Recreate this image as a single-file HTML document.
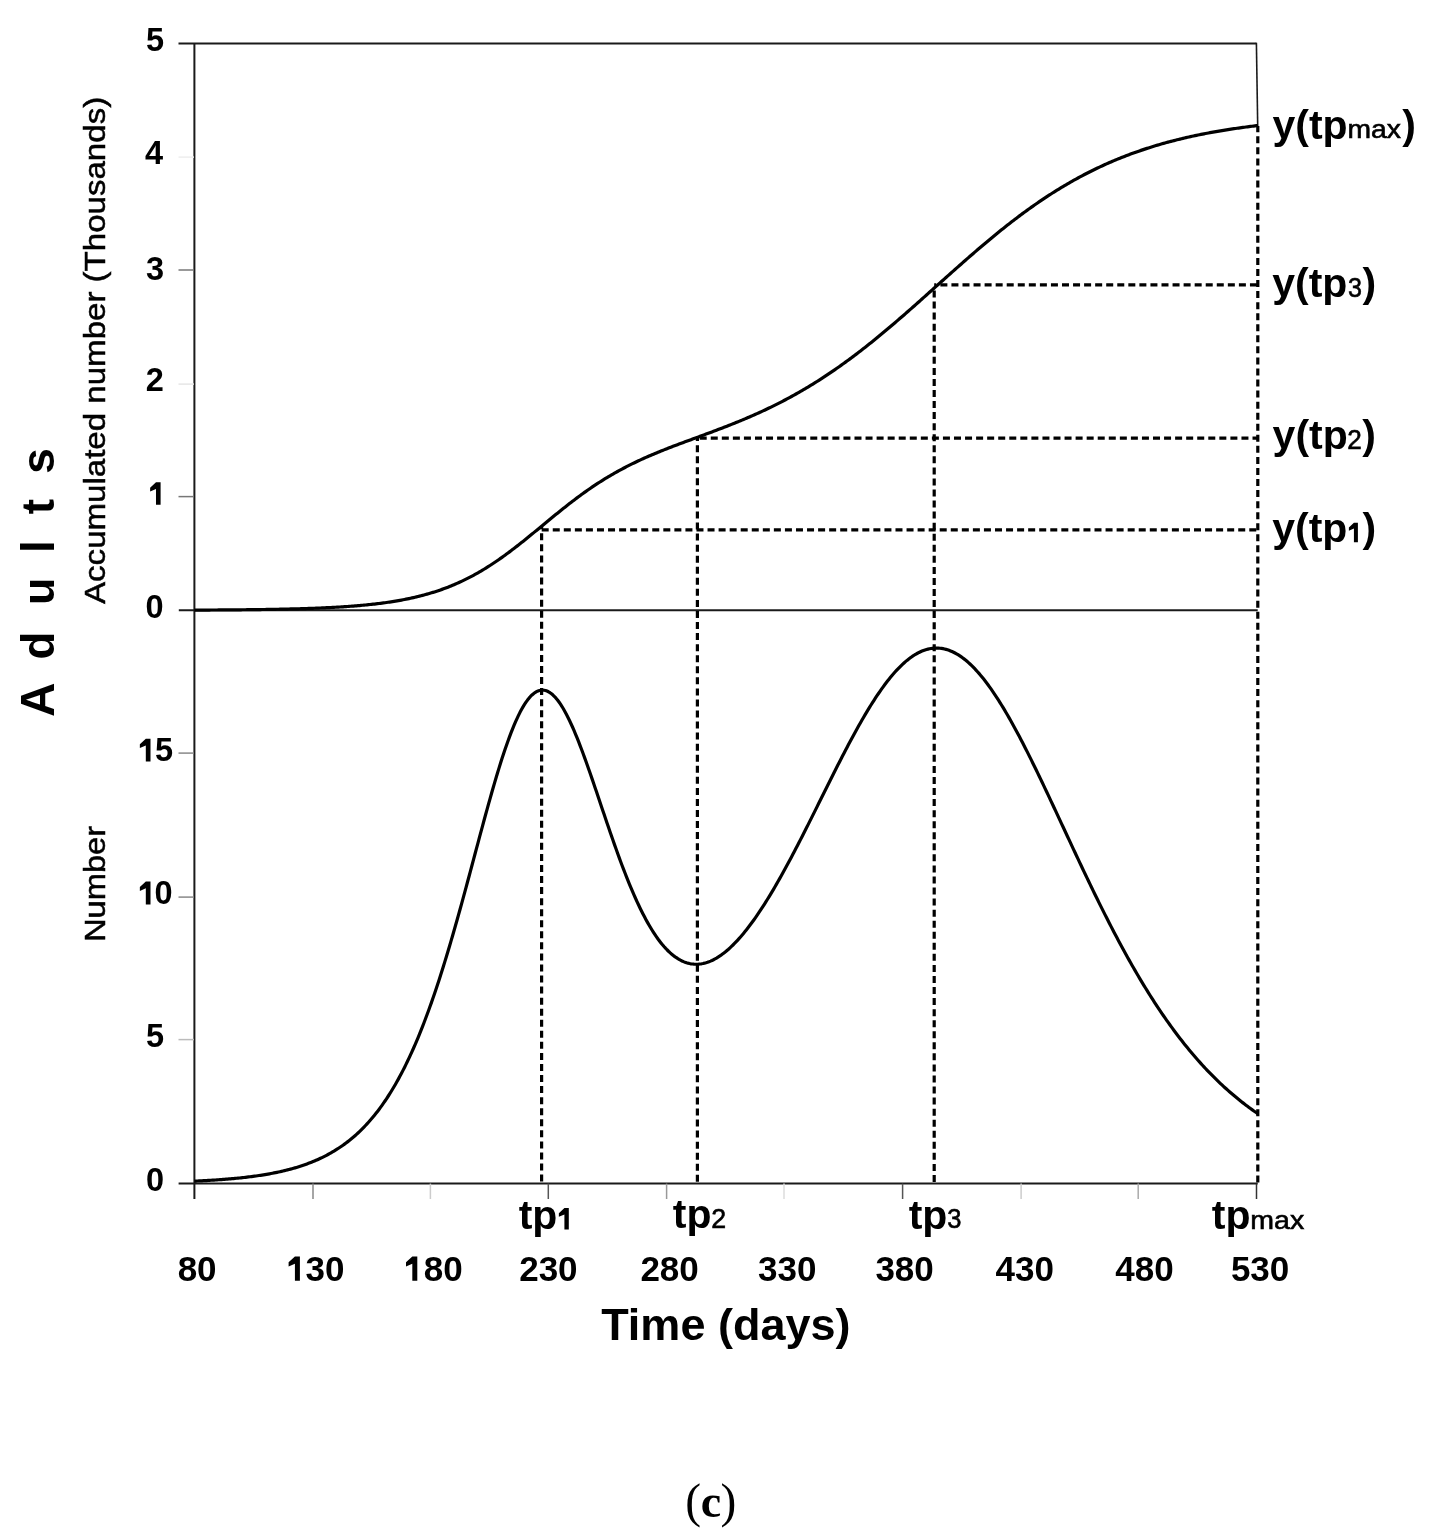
<!DOCTYPE html><html><head><meta charset="utf-8"><style>html,body{margin:0;padding:0;background:#fff}svg{display:block;filter:blur(0.35px)}text{font-family:"Liberation Sans",sans-serif}.sf{font-family:"Liberation Serif",serif}</style></head><body>
<svg width="1441" height="1536" viewBox="0 0 1441 1536">
<rect width="1441" height="1536" fill="#fff"/>
<path d="M194.4 43.6 V1199" stroke="#1a1a1a" stroke-width="2" fill="none"/>
<path d="M178.5 43.6 H1256.4" stroke="#1a1a1a" stroke-width="2" fill="none"/>
<path d="M1256.4 42.8 L1257.7 126" stroke="#1a1a1a" stroke-width="1.6" fill="none"/>
<path d="M178.8 610.3 H1257.7" stroke="#1a1a1a" stroke-width="2" fill="none"/>
<path d="M178.6 1183.6 H1257.7" stroke="#1a1a1a" stroke-width="2" fill="none"/>
<path d="M178.5 157.1 H194" stroke="#eee" stroke-width="1.5" fill="none"/>
<path d="M178.5 270 H194" stroke="#777" stroke-width="1.5" fill="none"/>
<path d="M178.5 384.1 H194" stroke="#e6e6e6" stroke-width="1.5" fill="none"/>
<path d="M178.5 496.6 H194" stroke="#777" stroke-width="1.5" fill="none"/>
<path d="M178.5 753.1 H194" stroke="#888" stroke-width="1.5" fill="none"/>
<path d="M178.5 897.1 H194" stroke="#888" stroke-width="1.5" fill="none"/>
<path d="M178.5 1039.6 H194" stroke="#bbb" stroke-width="1.5" fill="none"/>
<path d="M313 1183.6 V1199" stroke="#888" stroke-width="1.5" fill="none"/>
<path d="M430.4 1183.6 V1199" stroke="#ccc" stroke-width="1.5" fill="none"/>
<path d="M548.3 1183.6 V1199" stroke="#555" stroke-width="1.5" fill="none"/>
<path d="M666.6 1183.6 V1199" stroke="#999" stroke-width="1.5" fill="none"/>
<path d="M784 1183.6 V1199" stroke="#ddd" stroke-width="1.5" fill="none"/>
<path d="M902.6 1183.6 V1199" stroke="#555" stroke-width="1.5" fill="none"/>
<path d="M1021.1 1183.6 V1199" stroke="#ccc" stroke-width="1.5" fill="none"/>
<path d="M1138.2 1183.6 V1199" stroke="#aaa" stroke-width="1.5" fill="none"/>
<path d="M1256.5 1183.6 V1199" stroke="#333" stroke-width="1.5" fill="none"/>
<path d="M541.6 526.2 L541.6 1183.6" stroke="#000" stroke-width="3.2" fill="none" stroke-dasharray="7.0 4.056" stroke-dashoffset="3.96"/>
<path d="M697.4 437.3 L697.4 1183.6" stroke="#000" stroke-width="3.2" fill="none" stroke-dasharray="7.0 4.056" stroke-dashoffset="3.21"/>
<path d="M934.2 288.1 L934.2 1183.6" stroke="#000" stroke-width="3.2" fill="none" stroke-dasharray="7.0 4.056" stroke-dashoffset="8.66"/>
<path d="M1257.8 126 L1257.8 1183.6" stroke="#000" stroke-width="3.2" fill="none" stroke-dasharray="7.0 4.056" stroke-dashoffset="0.76"/>
<path d="M541.6 529.8 L1257.8 529.8" stroke="#000" stroke-width="3.2" fill="none" stroke-dasharray="7.0 4.056" stroke-dashoffset="10.96"/>
<path d="M697.4 438.1 L1257.8 438.1" stroke="#000" stroke-width="3.2" fill="none" stroke-dasharray="7.0 4.056" stroke-dashoffset="8.75"/>
<path d="M934.2 284.8 L1257.8 284.8" stroke="#000" stroke-width="3.2" fill="none" stroke-dasharray="7.0 4.056" stroke-dashoffset="4.88"/>
<path d="M194.50 610.10 L196.00 610.10 L197.50 610.09 L199.00 610.08 L200.50 610.07 L202.00 610.07 L203.50 610.06 L205.00 610.05 L206.50 610.04 L208.00 610.03 L209.50 610.03 L211.00 610.02 L212.50 610.01 L214.00 610.00 L215.50 609.99 L217.00 609.98 L218.50 609.97 L220.00 609.96 L221.50 609.95 L223.00 609.94 L224.50 609.92 L226.00 609.91 L227.50 609.90 L229.00 609.89 L230.50 609.88 L232.00 609.86 L233.50 609.85 L235.00 609.84 L236.50 609.82 L238.00 609.81 L239.50 609.80 L241.00 609.78 L242.50 609.76 L244.00 609.75 L245.50 609.73 L247.00 609.72 L248.50 609.70 L250.00 609.68 L251.50 609.66 L253.00 609.64 L254.50 609.63 L256.00 609.61 L257.50 609.59 L259.00 609.57 L260.50 609.54 L262.00 609.52 L263.50 609.50 L265.00 609.48 L266.50 609.45 L268.00 609.43 L269.50 609.40 L271.00 609.38 L272.50 609.35 L274.00 609.33 L275.50 609.30 L277.00 609.27 L278.50 609.24 L280.00 609.21 L281.50 609.18 L283.00 609.15 L284.50 609.11 L286.00 609.08 L287.50 609.05 L289.00 609.01 L290.50 608.97 L292.00 608.94 L293.50 608.90 L295.00 608.86 L296.50 608.82 L298.00 608.78 L299.50 608.73 L301.00 608.69 L302.50 608.64 L304.00 608.60 L305.50 608.55 L307.00 608.50 L308.50 608.45 L310.00 608.40 L311.50 608.34 L313.00 608.29 L314.50 608.23 L316.00 608.17 L317.50 608.11 L319.00 608.05 L320.50 607.99 L322.00 607.92 L323.50 607.86 L325.00 607.79 L326.50 607.72 L328.00 607.64 L329.50 607.57 L331.00 607.49 L332.50 607.41 L334.00 607.33 L335.50 607.25 L337.00 607.16 L338.50 607.07 L340.00 606.98 L341.50 606.89 L343.00 606.80 L344.50 606.70 L346.00 606.60 L347.50 606.49 L349.00 606.38 L350.50 606.27 L352.00 606.16 L353.50 606.05 L355.00 605.93 L356.50 605.80 L358.00 605.68 L359.50 605.55 L361.00 605.41 L362.50 605.28 L364.00 605.14 L365.50 604.99 L367.00 604.84 L368.50 604.69 L370.00 604.53 L371.50 604.37 L373.00 604.21 L374.50 604.04 L376.00 603.86 L377.50 603.68 L379.00 603.50 L380.50 603.31 L382.00 603.12 L383.50 602.92 L385.00 602.71 L386.50 602.50 L388.00 602.28 L389.50 602.06 L391.00 601.83 L392.50 601.60 L394.00 601.36 L395.50 601.11 L397.00 600.86 L398.50 600.60 L400.00 600.33 L401.50 600.06 L403.00 599.77 L404.50 599.49 L406.00 599.19 L407.50 598.89 L409.00 598.57 L410.50 598.25 L412.00 597.93 L413.50 597.59 L415.00 597.24 L416.50 596.89 L418.00 596.53 L419.50 596.16 L421.00 595.78 L422.50 595.39 L424.00 594.99 L425.50 594.58 L427.00 594.16 L428.50 593.73 L430.00 593.29 L431.50 592.84 L433.00 592.38 L434.50 591.90 L436.00 591.42 L437.50 590.93 L439.00 590.42 L440.50 589.90 L442.00 589.37 L443.50 588.83 L445.00 588.28 L446.50 587.71 L448.00 587.14 L449.50 586.55 L451.00 585.94 L452.50 585.33 L454.00 584.70 L455.50 584.06 L457.00 583.40 L458.50 582.73 L460.00 582.05 L461.50 581.35 L463.00 580.65 L464.50 579.92 L466.00 579.18 L467.50 578.43 L469.00 577.67 L470.50 576.89 L472.00 576.10 L473.50 575.29 L475.00 574.47 L476.50 573.63 L478.00 572.78 L479.50 571.92 L481.00 571.04 L482.50 570.15 L484.00 569.25 L485.50 568.33 L487.00 567.39 L488.50 566.45 L490.00 565.49 L491.50 564.51 L493.00 563.53 L494.50 562.53 L496.00 561.51 L497.50 560.49 L499.00 559.45 L500.50 558.40 L502.00 557.34 L503.50 556.26 L505.00 555.18 L506.50 554.08 L508.00 552.98 L509.50 551.86 L511.00 550.73 L512.50 549.59 L514.00 548.45 L515.50 547.29 L517.00 546.13 L518.50 544.95 L520.00 543.77 L521.50 542.59 L523.00 541.39 L524.50 540.19 L526.00 538.98 L527.50 537.77 L529.00 536.55 L530.50 535.33 L532.00 534.11 L533.50 532.88 L535.00 531.64 L536.50 530.41 L538.00 529.17 L539.50 527.93 L541.00 526.69 L542.50 525.45 L544.00 524.21 L545.50 522.97 L547.00 521.74 L548.50 520.50 L550.00 519.27 L551.50 518.03 L553.00 516.80 L554.50 515.58 L556.00 514.36 L557.50 513.14 L559.00 511.93 L560.50 510.72 L562.00 509.52 L563.50 508.32 L565.00 507.13 L566.50 505.95 L568.00 504.78 L569.50 503.61 L571.00 502.45 L572.50 501.30 L574.00 500.15 L575.50 499.02 L577.00 497.89 L578.50 496.78 L580.00 495.67 L581.50 494.58 L583.00 493.49 L584.50 492.41 L586.00 491.35 L587.50 490.29 L589.00 489.25 L590.50 488.21 L592.00 487.19 L593.50 486.18 L595.00 485.18 L596.50 484.19 L598.00 483.21 L599.50 482.24 L601.00 481.28 L602.50 480.34 L604.00 479.40 L605.50 478.48 L607.00 477.57 L608.50 476.67 L610.00 475.78 L611.50 474.90 L613.00 474.03 L614.50 473.17 L616.00 472.33 L617.50 471.49 L619.00 470.67 L620.50 469.85 L622.00 469.05 L623.50 468.25 L625.00 467.46 L626.50 466.69 L628.00 465.92 L629.50 465.17 L631.00 464.42 L632.50 463.68 L634.00 462.95 L635.50 462.23 L637.00 461.51 L638.50 460.81 L640.00 460.11 L641.50 459.42 L643.00 458.74 L644.50 458.07 L646.00 457.40 L647.50 456.74 L649.00 456.09 L650.50 455.44 L652.00 454.80 L653.50 454.17 L655.00 453.54 L656.50 452.91 L658.00 452.30 L659.50 451.68 L661.00 451.08 L662.50 450.47 L664.00 449.88 L665.50 449.28 L667.00 448.69 L668.50 448.11 L670.00 447.52 L671.50 446.94 L673.00 446.37 L674.50 445.80 L676.00 445.23 L677.50 444.66 L679.00 444.09 L680.50 443.53 L682.00 442.97 L683.50 442.41 L685.00 441.85 L686.50 441.30 L688.00 440.74 L689.50 440.19 L691.00 439.64 L692.50 439.08 L694.00 438.53 L695.50 437.98 L697.00 437.43 L698.50 436.88 L700.00 436.33 L701.50 435.77 L703.00 435.22 L704.50 434.67 L706.00 434.11 L707.50 433.56 L709.00 433.00 L710.50 432.44 L712.00 431.88 L713.50 431.32 L715.00 430.76 L716.50 430.19 L718.00 429.62 L719.50 429.05 L721.00 428.48 L722.50 427.90 L724.00 427.32 L725.50 426.74 L727.00 426.16 L728.50 425.57 L730.00 424.98 L731.50 424.38 L733.00 423.79 L734.50 423.18 L736.00 422.58 L737.50 421.97 L739.00 421.36 L740.50 420.74 L742.00 420.12 L743.50 419.49 L745.00 418.86 L746.50 418.22 L748.00 417.58 L749.50 416.94 L751.00 416.29 L752.50 415.63 L754.00 414.97 L755.50 414.30 L757.00 413.63 L758.50 412.95 L760.00 412.27 L761.50 411.58 L763.00 410.89 L764.50 410.19 L766.00 409.48 L767.50 408.77 L769.00 408.05 L770.50 407.33 L772.00 406.60 L773.50 405.86 L775.00 405.12 L776.50 404.37 L778.00 403.62 L779.50 402.85 L781.00 402.08 L782.50 401.31 L784.00 400.53 L785.50 399.74 L787.00 398.94 L788.50 398.14 L790.00 397.33 L791.50 396.51 L793.00 395.68 L794.50 394.85 L796.00 394.01 L797.50 393.17 L799.00 392.31 L800.50 391.45 L802.00 390.59 L803.50 389.71 L805.00 388.83 L806.50 387.94 L808.00 387.04 L809.50 386.13 L811.00 385.22 L812.50 384.30 L814.00 383.37 L815.50 382.44 L817.00 381.49 L818.50 380.54 L820.00 379.58 L821.50 378.62 L823.00 377.65 L824.50 376.66 L826.00 375.68 L827.50 374.68 L829.00 373.68 L830.50 372.67 L832.00 371.65 L833.50 370.62 L835.00 369.59 L836.50 368.55 L838.00 367.50 L839.50 366.44 L841.00 365.38 L842.50 364.31 L844.00 363.23 L845.50 362.14 L847.00 361.05 L848.50 359.95 L850.00 358.85 L851.50 357.73 L853.00 356.61 L854.50 355.48 L856.00 354.35 L857.50 353.21 L859.00 352.06 L860.50 350.90 L862.00 349.74 L863.50 348.57 L865.00 347.40 L866.50 346.22 L868.00 345.03 L869.50 343.84 L871.00 342.64 L872.50 341.43 L874.00 340.22 L875.50 339.01 L877.00 337.78 L878.50 336.55 L880.00 335.32 L881.50 334.08 L883.00 332.83 L884.50 331.58 L886.00 330.33 L887.50 329.07 L889.00 327.80 L890.50 326.53 L892.00 325.26 L893.50 323.98 L895.00 322.70 L896.50 321.41 L898.00 320.12 L899.50 318.82 L901.00 317.52 L902.50 316.22 L904.00 314.92 L905.50 313.61 L907.00 312.29 L908.50 310.98 L910.00 309.66 L911.50 308.34 L913.00 307.01 L914.50 305.68 L916.00 304.35 L917.50 303.02 L919.00 301.69 L920.50 300.35 L922.00 299.02 L923.50 297.68 L925.00 296.34 L926.50 295.00 L928.00 293.65 L929.50 292.31 L931.00 290.97 L932.50 289.62 L934.00 288.28 L935.50 286.93 L937.00 285.59 L938.50 284.24 L940.00 282.90 L941.50 281.55 L943.00 280.21 L944.50 278.86 L946.00 277.52 L947.50 276.18 L949.00 274.84 L950.50 273.50 L952.00 272.16 L953.50 270.83 L955.00 269.49 L956.50 268.16 L958.00 266.83 L959.50 265.50 L961.00 264.18 L962.50 262.85 L964.00 261.53 L965.50 260.22 L967.00 258.90 L968.50 257.59 L970.00 256.28 L971.50 254.98 L973.00 253.68 L974.50 252.38 L976.00 251.09 L977.50 249.80 L979.00 248.52 L980.50 247.24 L982.00 245.97 L983.50 244.69 L985.00 243.43 L986.50 242.17 L988.00 240.91 L989.50 239.66 L991.00 238.42 L992.50 237.18 L994.00 235.94 L995.50 234.71 L997.00 233.49 L998.50 232.27 L1000.00 231.06 L1001.50 229.85 L1003.00 228.65 L1004.50 227.46 L1006.00 226.27 L1007.50 225.09 L1009.00 223.92 L1010.50 222.75 L1012.00 221.59 L1013.50 220.44 L1015.00 219.29 L1016.50 218.15 L1018.00 217.02 L1019.50 215.89 L1021.00 214.77 L1022.50 213.66 L1024.00 212.55 L1025.50 211.46 L1027.00 210.37 L1028.50 209.29 L1030.00 208.21 L1031.50 207.14 L1033.00 206.08 L1034.50 205.03 L1036.00 203.99 L1037.50 202.95 L1039.00 201.92 L1040.50 200.90 L1042.00 199.89 L1043.50 198.88 L1045.00 197.89 L1046.50 196.90 L1048.00 195.91 L1049.50 194.94 L1051.00 193.98 L1052.50 193.02 L1054.00 192.07 L1055.50 191.13 L1057.00 190.19 L1058.50 189.27 L1060.00 188.35 L1061.50 187.44 L1063.00 186.54 L1064.50 185.65 L1066.00 184.77 L1067.50 183.89 L1069.00 183.02 L1070.50 182.16 L1072.00 181.31 L1073.50 180.46 L1075.00 179.63 L1076.50 178.80 L1078.00 177.98 L1079.50 177.17 L1081.00 176.36 L1082.50 175.57 L1084.00 174.78 L1085.50 174.00 L1087.00 173.23 L1088.50 172.46 L1090.00 171.71 L1091.50 170.96 L1093.00 170.22 L1094.50 169.48 L1096.00 168.76 L1097.50 168.04 L1099.00 167.33 L1100.50 166.63 L1102.00 165.93 L1103.50 165.25 L1105.00 164.57 L1106.50 163.89 L1108.00 163.23 L1109.50 162.57 L1111.00 161.92 L1112.50 161.28 L1114.00 160.64 L1115.50 160.01 L1117.00 159.39 L1118.50 158.78 L1120.00 158.17 L1121.50 157.57 L1123.00 156.98 L1124.50 156.39 L1126.00 155.81 L1127.50 155.24 L1129.00 154.67 L1130.50 154.11 L1132.00 153.56 L1133.50 153.02 L1135.00 152.48 L1136.50 151.94 L1138.00 151.42 L1139.50 150.90 L1141.00 150.38 L1142.50 149.88 L1144.00 149.38 L1145.50 148.88 L1147.00 148.39 L1148.50 147.91 L1150.00 147.43 L1151.50 146.96 L1153.00 146.50 L1154.50 146.04 L1156.00 145.58 L1157.50 145.14 L1159.00 144.70 L1160.50 144.26 L1162.00 143.83 L1163.50 143.40 L1165.00 142.98 L1166.50 142.57 L1168.00 142.16 L1169.50 141.76 L1171.00 141.36 L1172.50 140.97 L1174.00 140.58 L1175.50 140.20 L1177.00 139.82 L1178.50 139.45 L1180.00 139.08 L1181.50 138.72 L1183.00 138.36 L1184.50 138.01 L1186.00 137.66 L1187.50 137.31 L1189.00 136.97 L1190.50 136.64 L1192.00 136.31 L1193.50 135.98 L1195.00 135.66 L1196.50 135.35 L1198.00 135.03 L1199.50 134.72 L1201.00 134.42 L1202.50 134.12 L1204.00 133.82 L1205.50 133.53 L1207.00 133.24 L1208.50 132.96 L1210.00 132.68 L1211.50 132.40 L1213.00 132.13 L1214.50 131.86 L1216.00 131.60 L1217.50 131.34 L1219.00 131.08 L1220.50 130.83 L1222.00 130.58 L1223.50 130.33 L1225.00 130.09 L1226.50 129.85 L1228.00 129.61 L1229.50 129.38 L1231.00 129.15 L1232.50 128.92 L1234.00 128.70 L1235.50 128.48 L1237.00 128.26 L1238.50 128.05 L1240.00 127.84 L1241.50 127.63 L1243.00 127.42 L1244.50 127.22 L1246.00 127.02 L1247.50 126.83 L1249.00 126.63 L1250.50 126.44 L1252.00 126.26 L1253.50 126.07 L1255.00 125.89 L1256.50 125.71 L1257.70 125.57" stroke="#000" stroke-width="3.2" fill="none" stroke-linejoin="round"/>
<path d="M194.50 1181.14 L196.00 1181.07 L197.50 1181.00 L199.00 1180.93 L200.50 1180.85 L202.00 1180.78 L203.50 1180.70 L205.00 1180.62 L206.50 1180.53 L208.00 1180.45 L209.50 1180.36 L211.00 1180.27 L212.50 1180.17 L214.00 1180.08 L215.50 1179.98 L217.00 1179.88 L218.50 1179.77 L220.00 1179.67 L221.50 1179.56 L223.00 1179.44 L224.50 1179.33 L226.00 1179.21 L227.50 1179.08 L229.00 1178.96 L230.50 1178.83 L232.00 1178.69 L233.50 1178.56 L235.00 1178.42 L236.50 1178.27 L238.00 1178.12 L239.50 1177.97 L241.00 1177.81 L242.50 1177.65 L244.00 1177.48 L245.50 1177.31 L247.00 1177.13 L248.50 1176.95 L250.00 1176.76 L251.50 1176.57 L253.00 1176.37 L254.50 1176.17 L256.00 1175.96 L257.50 1175.75 L259.00 1175.53 L260.50 1175.30 L262.00 1175.07 L263.50 1174.83 L265.00 1174.58 L266.50 1174.33 L268.00 1174.06 L269.50 1173.80 L271.00 1173.52 L272.50 1173.24 L274.00 1172.94 L275.50 1172.64 L277.00 1172.33 L278.50 1172.02 L280.00 1171.69 L281.50 1171.35 L283.00 1171.01 L284.50 1170.65 L286.00 1170.29 L287.50 1169.91 L289.00 1169.52 L290.50 1169.12 L292.00 1168.71 L293.50 1168.29 L295.00 1167.86 L296.50 1167.42 L298.00 1166.96 L299.50 1166.49 L301.00 1166.00 L302.50 1165.50 L304.00 1164.99 L305.50 1164.47 L307.00 1163.92 L308.50 1163.37 L310.00 1162.79 L311.50 1162.20 L313.00 1161.60 L314.50 1160.98 L316.00 1160.34 L317.50 1159.68 L319.00 1159.00 L320.50 1158.30 L322.00 1157.59 L323.50 1156.85 L325.00 1156.10 L326.50 1155.32 L328.00 1154.52 L329.50 1153.70 L331.00 1152.85 L332.50 1151.98 L334.00 1151.09 L335.50 1150.17 L337.00 1149.23 L338.50 1148.26 L340.00 1147.27 L341.50 1146.24 L343.00 1145.19 L344.50 1144.11 L346.00 1143.00 L347.50 1141.86 L349.00 1140.69 L350.50 1139.48 L352.00 1138.25 L353.50 1136.98 L355.00 1135.67 L356.50 1134.34 L358.00 1132.96 L359.50 1131.55 L361.00 1130.10 L362.50 1128.61 L364.00 1127.08 L365.50 1125.51 L367.00 1123.90 L368.50 1122.25 L370.00 1120.56 L371.50 1118.82 L373.00 1117.03 L374.50 1115.20 L376.00 1113.33 L377.50 1111.40 L379.00 1109.43 L380.50 1107.40 L382.00 1105.33 L383.50 1103.20 L385.00 1101.02 L386.50 1098.79 L388.00 1096.50 L389.50 1094.15 L391.00 1091.75 L392.50 1089.29 L394.00 1086.77 L395.50 1084.20 L397.00 1081.56 L398.50 1078.86 L400.00 1076.09 L401.50 1073.27 L403.00 1070.38 L404.50 1067.42 L406.00 1064.40 L407.50 1061.31 L409.00 1058.15 L410.50 1054.93 L412.00 1051.63 L413.50 1048.27 L415.00 1044.84 L416.50 1041.33 L418.00 1037.76 L419.50 1034.11 L421.00 1030.39 L422.50 1026.60 L424.00 1022.74 L425.50 1018.80 L427.00 1014.80 L428.50 1010.71 L430.00 1006.56 L431.50 1002.34 L433.00 998.04 L434.50 993.67 L436.00 989.23 L437.50 984.72 L439.00 980.14 L440.50 975.49 L442.00 970.78 L443.50 966.00 L445.00 961.15 L446.50 956.24 L448.00 951.27 L449.50 946.24 L451.00 941.15 L452.50 936.00 L454.00 930.80 L455.50 925.55 L457.00 920.25 L458.50 914.90 L460.00 909.51 L461.50 904.08 L463.00 898.62 L464.50 893.12 L466.00 887.59 L467.50 882.03 L469.00 876.46 L470.50 870.87 L472.00 865.26 L473.50 859.64 L475.00 854.03 L476.50 848.41 L478.00 842.80 L479.50 837.20 L481.00 831.62 L482.50 826.06 L484.00 820.53 L485.50 815.04 L487.00 809.58 L488.50 804.17 L490.00 798.82 L491.50 793.52 L493.00 788.29 L494.50 783.12 L496.00 778.04 L497.50 773.04 L499.00 768.13 L500.50 763.32 L502.00 758.61 L503.50 754.01 L505.00 749.53 L506.50 745.16 L508.00 740.93 L509.50 736.83 L511.00 732.87 L512.50 729.06 L514.00 725.40 L515.50 721.89 L517.00 718.55 L518.50 715.38 L520.00 712.37 L521.50 709.54 L523.00 706.89 L524.50 704.43 L526.00 702.15 L527.50 700.06 L529.00 698.17 L530.50 696.47 L532.00 694.97 L533.50 693.67 L535.00 692.57 L536.50 691.67 L538.00 690.98 L539.50 690.49 L541.00 690.20 L542.50 690.11 L544.00 690.23 L545.50 690.54 L547.00 691.06 L548.50 691.77 L550.00 692.68 L551.50 693.78 L553.00 695.06 L554.50 696.54 L556.00 698.19 L557.50 700.02 L559.00 702.03 L560.50 704.20 L562.00 706.54 L563.50 709.03 L565.00 711.68 L566.50 714.48 L568.00 717.42 L569.50 720.49 L571.00 723.70 L572.50 727.03 L574.00 730.47 L575.50 734.03 L577.00 737.69 L578.50 741.45 L580.00 745.31 L581.50 749.24 L583.00 753.26 L584.50 757.35 L586.00 761.50 L587.50 765.71 L589.00 769.97 L590.50 774.28 L592.00 778.63 L593.50 783.01 L595.00 787.41 L596.50 791.84 L598.00 796.28 L599.50 800.73 L601.00 805.19 L602.50 809.64 L604.00 814.09 L605.50 818.52 L607.00 822.94 L608.50 827.33 L610.00 831.70 L611.50 836.04 L613.00 840.34 L614.50 844.60 L616.00 848.82 L617.50 852.99 L619.00 857.11 L620.50 861.18 L622.00 865.19 L623.50 869.14 L625.00 873.03 L626.50 876.85 L628.00 880.60 L629.50 884.28 L631.00 887.89 L632.50 891.43 L634.00 894.89 L635.50 898.27 L637.00 901.58 L638.50 904.80 L640.00 907.94 L641.50 911.00 L643.00 913.97 L644.50 916.86 L646.00 919.67 L647.50 922.38 L649.00 925.01 L650.50 927.56 L652.00 930.01 L653.50 932.38 L655.00 934.66 L656.50 936.85 L658.00 938.96 L659.50 940.97 L661.00 942.90 L662.50 944.75 L664.00 946.50 L665.50 948.17 L667.00 949.75 L668.50 951.25 L670.00 952.66 L671.50 953.98 L673.00 955.23 L674.50 956.38 L676.00 957.46 L677.50 958.45 L679.00 959.36 L680.50 960.19 L682.00 960.95 L683.50 961.62 L685.00 962.21 L686.50 962.73 L688.00 963.16 L689.50 963.53 L691.00 963.82 L692.50 964.03 L694.00 964.17 L695.50 964.24 L697.00 964.23 L698.50 964.16 L700.00 964.01 L701.50 963.80 L703.00 963.52 L704.50 963.17 L706.00 962.76 L707.50 962.28 L709.00 961.73 L710.50 961.13 L712.00 960.46 L713.50 959.72 L715.00 958.93 L716.50 958.08 L718.00 957.17 L719.50 956.20 L721.00 955.17 L722.50 954.08 L724.00 952.94 L725.50 951.75 L727.00 950.50 L728.50 949.20 L730.00 947.84 L731.50 946.43 L733.00 944.98 L734.50 943.47 L736.00 941.91 L737.50 940.31 L739.00 938.65 L740.50 936.96 L742.00 935.21 L743.50 933.42 L745.00 931.58 L746.50 929.71 L748.00 927.79 L749.50 925.82 L751.00 923.82 L752.50 921.77 L754.00 919.69 L755.50 917.56 L757.00 915.40 L758.50 913.20 L760.00 910.96 L761.50 908.69 L763.00 906.38 L764.50 904.04 L766.00 901.67 L767.50 899.26 L769.00 896.82 L770.50 894.35 L772.00 891.85 L773.50 889.32 L775.00 886.76 L776.50 884.17 L778.00 881.55 L779.50 878.91 L781.00 876.25 L782.50 873.55 L784.00 870.84 L785.50 868.10 L787.00 865.34 L788.50 862.56 L790.00 859.76 L791.50 856.93 L793.00 854.09 L794.50 851.23 L796.00 848.36 L797.50 845.47 L799.00 842.56 L800.50 839.64 L802.00 836.71 L803.50 833.76 L805.00 830.80 L806.50 827.83 L808.00 824.85 L809.50 821.87 L811.00 818.87 L812.50 815.87 L814.00 812.87 L815.50 809.86 L817.00 806.84 L818.50 803.82 L820.00 800.80 L821.50 797.79 L823.00 794.77 L824.50 791.75 L826.00 788.74 L827.50 785.73 L829.00 782.72 L830.50 779.72 L832.00 776.73 L833.50 773.74 L835.00 770.77 L836.50 767.80 L838.00 764.85 L839.50 761.90 L841.00 758.98 L842.50 756.06 L844.00 753.17 L845.50 750.29 L847.00 747.42 L848.50 744.58 L850.00 741.76 L851.50 738.96 L853.00 736.18 L854.50 733.42 L856.00 730.69 L857.50 727.99 L859.00 725.31 L860.50 722.67 L862.00 720.05 L863.50 717.46 L865.00 714.90 L866.50 712.38 L868.00 709.89 L869.50 707.43 L871.00 705.02 L872.50 702.63 L874.00 700.29 L875.50 697.99 L877.00 695.72 L878.50 693.50 L880.00 691.32 L881.50 689.18 L883.00 687.09 L884.50 685.04 L886.00 683.04 L887.50 681.09 L889.00 679.19 L890.50 677.33 L892.00 675.52 L893.50 673.77 L895.00 672.06 L896.50 670.41 L898.00 668.82 L899.50 667.27 L901.00 665.78 L902.50 664.35 L904.00 662.98 L905.50 661.66 L907.00 660.39 L908.50 659.19 L910.00 658.05 L911.50 656.96 L913.00 655.94 L914.50 654.97 L916.00 654.07 L917.50 653.23 L919.00 652.45 L920.50 651.74 L922.00 651.08 L923.50 650.49 L925.00 649.97 L926.50 649.50 L928.00 649.11 L929.50 648.77 L931.00 648.50 L932.50 648.30 L934.00 648.16 L935.50 648.08 L937.00 648.07 L938.50 648.13 L940.00 648.25 L941.50 648.43 L943.00 648.68 L944.50 648.99 L946.00 649.37 L947.50 649.82 L949.00 650.33 L950.50 650.90 L952.00 651.53 L953.50 652.23 L955.00 653.00 L956.50 653.82 L958.00 654.71 L959.50 655.66 L961.00 656.67 L962.50 657.74 L964.00 658.88 L965.50 660.07 L967.00 661.33 L968.50 662.64 L970.00 664.01 L971.50 665.44 L973.00 666.92 L974.50 668.47 L976.00 670.06 L977.50 671.72 L979.00 673.42 L980.50 675.18 L982.00 677.00 L983.50 678.86 L985.00 680.78 L986.50 682.75 L988.00 684.76 L989.50 686.83 L991.00 688.94 L992.50 691.10 L994.00 693.30 L995.50 695.55 L997.00 697.85 L998.50 700.18 L1000.00 702.56 L1001.50 704.98 L1003.00 707.44 L1004.50 709.94 L1006.00 712.47 L1007.50 715.04 L1009.00 717.65 L1010.50 720.30 L1012.00 722.97 L1013.50 725.68 L1015.00 728.42 L1016.50 731.20 L1018.00 734.00 L1019.50 736.83 L1021.00 739.69 L1022.50 742.57 L1024.00 745.48 L1025.50 748.42 L1027.00 751.37 L1028.50 754.35 L1030.00 757.36 L1031.50 760.38 L1033.00 763.42 L1034.50 766.48 L1036.00 769.56 L1037.50 772.65 L1039.00 775.76 L1040.50 778.88 L1042.00 782.02 L1043.50 785.16 L1045.00 788.32 L1046.50 791.49 L1048.00 794.67 L1049.50 797.86 L1051.00 801.06 L1052.50 804.26 L1054.00 807.47 L1055.50 810.68 L1057.00 813.90 L1058.50 817.12 L1060.00 820.34 L1061.50 823.57 L1063.00 826.79 L1064.50 830.02 L1066.00 833.25 L1067.50 836.47 L1069.00 839.69 L1070.50 842.91 L1072.00 846.12 L1073.50 849.33 L1075.00 852.54 L1076.50 855.74 L1078.00 858.93 L1079.50 862.11 L1081.00 865.29 L1082.50 868.46 L1084.00 871.62 L1085.50 874.77 L1087.00 877.91 L1088.50 881.04 L1090.00 884.16 L1091.50 887.27 L1093.00 890.36 L1094.50 893.44 L1096.00 896.51 L1097.50 899.57 L1099.00 902.61 L1100.50 905.63 L1102.00 908.64 L1103.50 911.64 L1105.00 914.62 L1106.50 917.58 L1108.00 920.53 L1109.50 923.46 L1111.00 926.37 L1112.50 929.26 L1114.00 932.14 L1115.50 935.00 L1117.00 937.84 L1118.50 940.66 L1120.00 943.46 L1121.50 946.25 L1123.00 949.01 L1124.50 951.76 L1126.00 954.48 L1127.50 957.18 L1129.00 959.87 L1130.50 962.53 L1132.00 965.18 L1133.50 967.80 L1135.00 970.40 L1136.50 972.98 L1138.00 975.54 L1139.50 978.08 L1141.00 980.59 L1142.50 983.09 L1144.00 985.56 L1145.50 988.01 L1147.00 990.44 L1148.50 992.85 L1150.00 995.24 L1151.50 997.61 L1153.00 999.95 L1154.50 1002.27 L1156.00 1004.57 L1157.50 1006.85 L1159.00 1009.10 L1160.50 1011.34 L1162.00 1013.55 L1163.50 1015.74 L1165.00 1017.91 L1166.50 1020.06 L1168.00 1022.18 L1169.50 1024.28 L1171.00 1026.37 L1172.50 1028.43 L1174.00 1030.47 L1175.50 1032.48 L1177.00 1034.48 L1178.50 1036.45 L1180.00 1038.41 L1181.50 1040.34 L1183.00 1042.25 L1184.50 1044.14 L1186.00 1046.01 L1187.50 1047.86 L1189.00 1049.69 L1190.50 1051.50 L1192.00 1053.28 L1193.50 1055.05 L1195.00 1056.80 L1196.50 1058.52 L1198.00 1060.23 L1199.50 1061.92 L1201.00 1063.59 L1202.50 1065.23 L1204.00 1066.86 L1205.50 1068.47 L1207.00 1070.06 L1208.50 1071.63 L1210.00 1073.18 L1211.50 1074.72 L1213.00 1076.23 L1214.50 1077.73 L1216.00 1079.21 L1217.50 1080.67 L1219.00 1082.11 L1220.50 1083.54 L1222.00 1084.94 L1223.50 1086.33 L1225.00 1087.70 L1226.50 1089.06 L1228.00 1090.40 L1229.50 1091.72 L1231.00 1093.02 L1232.50 1094.31 L1234.00 1095.58 L1235.50 1096.83 L1237.00 1098.07 L1238.50 1099.29 L1240.00 1100.50 L1241.50 1101.69 L1243.00 1102.87 L1244.50 1104.03 L1246.00 1105.17 L1247.50 1106.30 L1249.00 1107.42 L1250.50 1108.52 L1252.00 1109.60 L1253.50 1110.68 L1255.00 1111.73 L1256.50 1112.78 L1257.70 1113.60" stroke="#000" stroke-width="3.2" fill="none" stroke-linejoin="round"/>
<text x="146.00" y="51.3" font-size="32.5" font-weight="bold">5</text>
<text x="145.11" y="164.2" font-size="32.5" font-weight="bold">4</text>
<text x="145.95" y="279.5" font-size="32.5" font-weight="bold">3</text>
<text x="145.77" y="390.8" font-size="32.5" font-weight="bold">2</text>
<text x="145.61" y="617.5" font-size="32.5" font-weight="bold">0</text>
<text x="146.10" y="1047.3" font-size="32.5" font-weight="bold">5</text>
<text x="146.11" y="1190.9" font-size="32.5" font-weight="bold">0</text>
<text x="155.10" y="761.3" font-size="32.5" font-weight="bold">5</text>
<text x="154.41" y="904.1" font-size="32.5" font-weight="bold">0</text>
<path d="M160.60 504.80 L160.60 482.30 L155.99 482.30 L150.14 487.70 L150.14 491.53 L155.99 489.05 L155.99 504.80 Z" fill="#000"/>
<path d="M150.50 761.60 L150.50 738.70 L145.81 738.70 L139.85 744.20 L139.85 748.09 L145.81 745.57 L145.81 761.60 Z" fill="#000"/>
<path d="M150.50 904.40 L150.50 881.50 L145.81 881.50 L139.85 887.00 L139.85 890.89 L145.81 888.37 L145.81 904.40 Z" fill="#000"/>
<text x="177.64" y="1281.2" font-size="35" font-weight="bold">80</text>
<text x="305.60" y="1281.2" font-size="35" font-weight="bold">30</text>
<text x="423.69" y="1281.2" font-size="35" font-weight="bold">80</text>
<text x="519.19" y="1281.2" font-size="35" font-weight="bold">230</text>
<text x="640.39" y="1281.2" font-size="35" font-weight="bold">280</text>
<text x="758.00" y="1281.2" font-size="35" font-weight="bold">330</text>
<text x="875.40" y="1281.2" font-size="35" font-weight="bold">380</text>
<text x="995.47" y="1281.2" font-size="35" font-weight="bold">430</text>
<text x="1115.37" y="1281.2" font-size="35" font-weight="bold">480</text>
<text x="1230.92" y="1281.2" font-size="35" font-weight="bold">530</text>
<path d="M299.90 1280.80 L299.90 1256.50 L294.92 1256.50 L288.60 1262.33 L288.60 1266.46 L294.92 1263.79 L294.92 1280.80 Z" fill="#000"/>
<path d="M417.30 1280.80 L417.30 1256.50 L412.32 1256.50 L406.00 1262.33 L406.00 1266.46 L412.32 1263.79 L412.32 1280.80 Z" fill="#000"/>
<text x="518.70" y="1229" font-size="41" font-weight="bold">tp</text>
<text x="672.80" y="1228.3" font-size="41" font-weight="bold">tp</text>
<text x="908.70" y="1228.75" font-size="41" font-weight="bold">tp</text>
<text x="1211.80" y="1228.9" font-size="41" font-weight="bold">tp</text>
<path d="M568.80 1229.40 L568.80 1208.00 L564.41 1208.00 L558.85 1213.14 L558.85 1216.77 L564.41 1214.42 L564.41 1229.40 Z" fill="#000"/>
<text transform="translate(711.15 1227.60) scale(0.9689 1)" font-size="27.64" stroke="#000" stroke-width="0.6">2</text>
<text transform="translate(947.33 1228.33) scale(0.9219 1)" font-size="27.68" stroke="#000" stroke-width="0.6">3</text>
<text transform="translate(1250.31 1228.64) scale(1.0780 1)" font-size="26.47" stroke="#000" stroke-width="0.6">max</text>
<text x="1272.48" y="138.5" font-size="41" font-weight="bold">y(tp</text>
<text x="1272.18" y="297" font-size="41" font-weight="bold">y(tp</text>
<text x="1272.58" y="448.75" font-size="41" font-weight="bold">y(tp</text>
<text x="1272.18" y="541.7" font-size="41" font-weight="bold">y(tp</text>
<text transform="translate(1347.42 138.06) scale(1.1321 1)" font-size="25.01" stroke="#000" stroke-width="0.6">max</text>
<text transform="translate(1348.09 297.02) scale(0.8885 1)" font-size="28.25" stroke="#000" stroke-width="0.6">3</text>
<text transform="translate(1347.29 448.60) scale(0.9753 1)" font-size="26.78" stroke="#000" stroke-width="0.6">2</text>
<path d="M1357.90 542.20 L1357.90 522.80 L1353.92 522.80 L1348.88 527.46 L1348.88 530.75 L1353.92 528.62 L1353.92 542.20 Z" fill="#000"/>
<text x="1402.29" y="138.5" font-size="41" font-weight="bold">)</text>
<text x="1362.39" y="297" font-size="41" font-weight="bold">)</text>
<text x="1362.14" y="448.75" font-size="41" font-weight="bold">)</text>
<text x="1362.59" y="541.7" font-size="41" font-weight="bold">)</text>
<text transform="translate(104.7 603.96) rotate(-90) scale(1.1022 1)" font-size="30" stroke="#000" stroke-width="0.5">Accumulated number (Thousands)</text>
<text transform="translate(104.7 941.98) rotate(-90) scale(1.0883 1)" font-size="30" stroke="#000" stroke-width="0.5">Number</text>
<text transform="translate(53.8 717.09) rotate(-90)" font-size="47.9" font-weight="bold">A</text>
<text transform="translate(53.8 659.47) rotate(-90)" font-size="45.6" font-weight="bold">d</text>
<text transform="translate(53.8 605.07) rotate(-90)" font-size="44.7" font-weight="bold">u</text>
<text transform="translate(53.8 553.11) rotate(-90)" font-size="46" font-weight="bold">l</text>
<text transform="translate(53.8 514.36) rotate(-90)" font-size="46" font-weight="bold">t</text>
<text transform="translate(53.8 473.82) rotate(-90)" font-size="46" font-weight="bold">s</text>
<text x="601.19" y="1339.6" font-size="45" font-weight="bold">Time (days)</text>
<text class="sf" x="685.31" y="1516.8" font-size="47.5" font-weight="normal">(</text>
<text class="sf" x="700.63" y="1516.8" font-size="46" font-weight="bold">c</text>
<text class="sf" x="720.47" y="1516.8" font-size="47.5" font-weight="normal">)</text>
</svg></body></html>
